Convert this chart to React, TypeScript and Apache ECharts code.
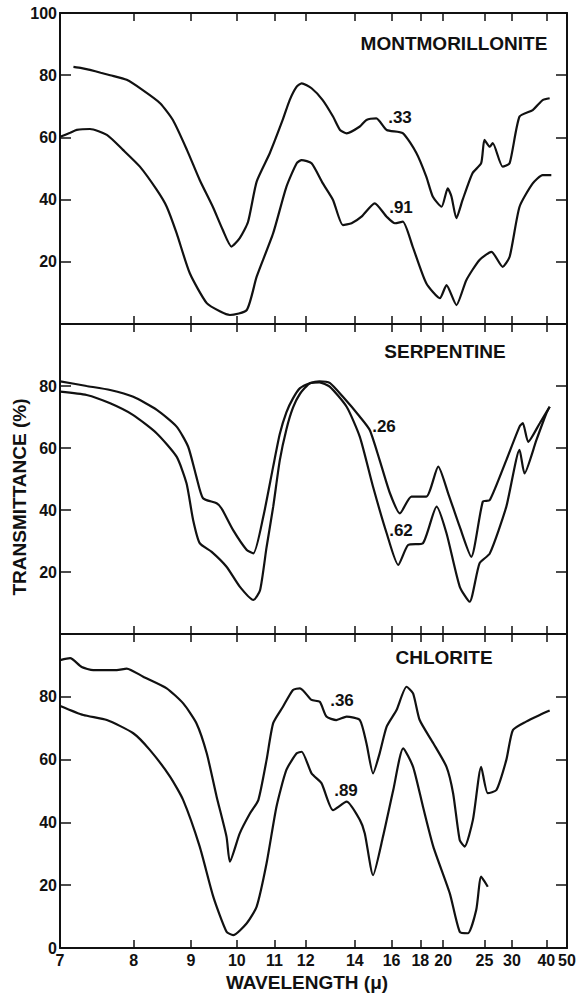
import React, { useEffect, useRef } from "react";
import * as echarts from "echarts";

// Infrared transmittance spectra of three clay minerals.
// Samples are [wavenumber (cm^-1), transmittance (%)]; the x axis is linear in
// wavenumber and is labeled in wavelength (µ = 10000 / cm^-1).

const WAVELENGTH_TICKS = [7, 8, 9, 10, 11, 12, 14, 16, 18, 20, 25, 30, 40, 50];

const MONT_033: [number, number][] = [
  [1396, 82.7], [1376, 82.3], [1356, 81.7], [1330, 80.8], [1307, 80], [1267, 78.5], [1228, 75.2],
  [1186, 71], [1155, 65.6], [1121, 56], [1090, 46.3], [1058, 37.6], [1034, 30.2], [1013, 24.9],
  [993, 27.6], [973, 32.8], [952, 45.8], [920, 55], [889, 65.6], [872, 72], [855, 76.3], [843, 77.4],
  [819, 75.8], [792, 72], [767, 66.7], [750, 62.4], [734, 61.3], [702, 63.5], [686, 65.6], [662, 66.1],
  [637, 62.4], [598, 61.4], [565, 55], [541, 47.4], [525, 40.9], [504, 37.7], [489, 43.6], [480, 41],
  [468, 34], [453, 39.9], [429, 48.5], [408, 51.7], [400, 59.2], [387, 57], [380, 58.2], [356, 50.6],
  [339, 51.7], [315, 66.7], [283, 68.8], [259, 72], [242, 72.6],
];

const MONT_091: [number, number][] = [
  [1428, 60.2], [1404, 61.5], [1388, 62.4], [1356, 62.7], [1315, 60.8], [1276, 56], [1235, 50.6],
  [1194, 43.1], [1170, 37.7], [1146, 29.2], [1114, 16.3], [1073, 6.7], [1040, 4], [1017, 2.9],
  [976, 4.5], [952, 15.2], [912, 29.2], [880, 44.1], [855, 51.7], [843, 52.7], [819, 51.7], [792, 45.3],
  [767, 39.9], [743, 31.8], [722, 32.4], [698, 34.5], [666, 38.8], [637, 34.5], [617, 32.4], [598, 32.9],
  [574, 24.9], [541, 13.1], [508, 8.3], [492, 12.5], [468, 6.1], [444, 14.1], [412, 20.6], [383, 23.2],
  [356, 18.4], [339, 21.6], [315, 37.7], [283, 45.2], [259, 47.9], [238, 47.9],
];

const SERP_026: [number, number][] = [
  [1428, 81.5], [1364, 80], [1307, 78.7], [1251, 76.5], [1194, 72.3], [1146, 66.9], [1118, 60.4],
  [1098, 50.7], [1082, 43.8], [1049, 42.2], [1037, 40.5], [1009, 33.5], [976, 27.1], [960, 26],
  [936, 37.8], [912, 54], [896, 64.5], [880, 71.5], [864, 76], [847, 79.3], [823, 80.9], [800, 81.5],
  [775, 81], [743, 76.5], [702, 70.1], [678, 65.8], [654, 56.1], [629, 45.4], [605, 38.9], [577, 44.3],
  [541, 44.3], [512, 54], [488, 45.4], [460, 34.6], [432, 24.9], [404, 42.7], [387, 43.2], [347, 56.1],
  [315, 66.9], [307, 68], [294, 62], [266, 68], [242, 73.3],
];

const SERP_062: [number, number][] = [
  [1428, 78.2], [1364, 77.1], [1307, 74.4], [1251, 70.6], [1194, 64.7], [1146, 57.2], [1122, 48.6],
  [1106, 36.8], [1090, 29.3], [1061, 26.5], [1025, 21.7], [993, 15.3], [960, 11], [944, 14],
  [928, 28], [912, 41], [896, 56], [880, 66], [864, 73], [847, 77.5], [823, 80.9], [800, 81.2], [775, 79.8],
  [734, 73.3], [702, 63.6], [670, 47.5], [637, 32.5], [609, 22.3], [585, 28.7], [549, 29.3], [516, 41.1],
  [492, 32.5], [460, 15.3], [436, 10.4], [412, 22.8], [387, 26], [347, 41.1], [315, 59.4], [303, 51.8],
  [274, 62.6], [250, 71.2], [242, 73.3],
];

const CHL_036: [number, number][] = [
  [1428, 91.7], [1404, 92.3], [1376, 89.5], [1348, 88.5], [1291, 88.5], [1267, 89], [1227, 86.4],
  [1170, 82.7], [1130, 77.9], [1098, 71.6], [1073, 62], [1049, 48.2], [1025, 35.4], [1017, 27.5],
  [993, 36.5], [968, 42.9], [948, 47.1], [928, 59.9], [912, 71.6], [888, 76.9], [864, 82.2], [847, 82.7],
  [819, 79], [799, 78.4], [783, 73.7], [759, 72.6], [734, 73.7], [702, 72.6], [686, 65.2], [670, 55.6],
  [654, 62], [637, 70.5], [613, 75.8], [589, 83.2], [573, 81.1], [557, 72.6], [524, 65.2], [492, 57.7],
  [476, 49.3], [460, 34.4], [448, 32.3], [428, 40.8], [408, 57.7], [392, 49.3], [371, 50.3], [347, 59.9],
  [331, 69.4], [299, 72.1], [266, 74.2], [242, 75.6],
];

const CHL_089: [number, number][] = [
  [1428, 77.1], [1372, 74.2], [1315, 72.6], [1251, 68.4], [1211, 63.1], [1162, 54.6], [1130, 47.1],
  [1090, 32.3], [1057, 16.3], [1025, 5.2], [1009, 4.1], [976, 7.9], [952, 13.2], [928, 27], [904, 45],
  [880, 56.7], [855, 62], [843, 62.5], [819, 55.6], [795, 52.5], [767, 43.9], [734, 46.6], [702, 40.8],
  [690, 36.5], [670, 23.2], [646, 35.4], [621, 50.3], [597, 63.6], [573, 57.7], [549, 45], [524, 32.3],
  [484, 17.4], [460, 5.2], [440, 4.7], [420, 12.1], [408, 22.7], [392, 19.5],
];

const INK = "#111";
const FONT = "Liberation Sans";

// One panel per mineral, stacked top to bottom
const PANELS = [
  { name: "MONTMORILLONITE", top: 13, height: 311, yLabels: [20, 40, 60, 80, 100], curves: [MONT_033, MONT_091] },
  { name: "SERPENTINE", top: 324, height: 310, yLabels: [20, 40, 60, 80], curves: [SERP_026, SERP_062] },
  { name: "CHLORITE", top: 634, height: 314, yLabels: [0, 20, 40, 60, 80], curves: [CHL_036, CHL_089] },
];

const tickValues = WAVELENGTH_TICKS.map((w) => 10000 / w);

export default function App() {
  const ref = useRef<HTMLDivElement>(null);

  useEffect(() => {
    if (!ref.current) return;
    const chart = echarts.init(ref.current, undefined, { renderer: "svg" });

    const grid: any[] = [];
    const xAxis: any[] = [];
    const yAxis: any[] = [];
    const series: any[] = [];

    PANELS.forEach((p, i) => {
      grid.push({ left: 60, right: 12, top: p.top, height: p.height });
      const isLast = i === PANELS.length - 1;
      const xBase = {
        type: "value",
        gridIndex: i,
        min: 10000 / 50,
        max: 10000 / 7,
        inverse: true,
        splitLine: { show: false },
        axisLine: { show: true, onZero: false, lineStyle: { color: INK, width: 2 } },
        axisTick: { show: true, inside: true, length: 8, customValues: tickValues, lineStyle: { color: INK, width: 1.5 } },
      };
      xAxis.push({
        ...xBase,
        position: "bottom",
        axisLabel: {
          show: isLast,
          customValues: tickValues,
          formatter: (v: number) => String(Math.round(10000 / v)),
          color: INK,
          fontFamily: FONT,
          fontWeight: "bold",
          fontSize: 16,
          margin: 4,
        },
      });
      xAxis.push({ ...xBase, position: "top", axisLabel: { show: false } });

      const yBase = {
        type: "value",
        gridIndex: i,
        min: 0,
        max: 100,
        interval: 20,
        splitLine: { show: false },
        axisLine: { show: true, onZero: false, lineStyle: { color: INK, width: 2 } },
        axisTick: { show: true, inside: true, length: 11, lineStyle: { color: INK, width: 1.5 } },
      };
      yAxis.push({
        ...yBase,
        position: "left",
        axisLabel: {
          formatter: (v: number) => (p.yLabels.includes(v) ? String(v) : ""),
          color: INK,
          fontFamily: FONT,
          fontWeight: "bold",
          fontSize: 16,
          margin: 3,
        },
      });
      yAxis.push({ ...yBase, position: "right", axisLabel: { show: false } });

      p.curves.forEach((data) => {
        series.push({
          type: "line",
          xAxisIndex: i * 2,
          yAxisIndex: i * 2,
          data,
          showSymbol: false,
          symbol: "none",
          smooth: 0.2,
          lineStyle: { color: INK, width: 2.2 },
          silent: true,
        });
      });
    });

    const textStyle = (text: string, size: number) => ({
      text,
      fill: INK,
      font: `bold ${size}px "${FONT}"`,
      textAlign: "center",
      textVerticalAlign: "middle",
    });

    const labels: [string, number, number, number][] = [
      ["MONTMORILLONITE", 454, 43, 19],
      ["SERPENTINE", 445, 351, 19],
      ["CHLORITE", 444, 657, 19],
      [".33", 400, 117, 17],
      [".91", 401, 207, 17],
      [".26", 384, 426, 17],
      [".62", 401, 530, 17],
      [".36", 342, 700, 17],
      [".89", 346, 790, 17],
      ["WAVELENGTH (\u03bc)", 307, 982, 19],
    ];

    const graphic: any[] = labels.map(([t, x, y, s]) => ({
      type: "text",
      x,
      y,
      style: textStyle(t, s),
    }));
    graphic.push({
      type: "text",
      x: 19,
      y: 497,
      rotation: Math.PI / 2,
      style: textStyle("TRANSMITTANCE (%)", 19),
    });

    chart.setOption({
      animation: false,
      backgroundColor: "#fff",
      grid,
      xAxis,
      yAxis,
      series,
      graphic,
    });

    return () => chart.dispose();
  }, []);

  return (
    <div
      ref={ref}
      style={{ position: "fixed", left: 0, top: 0, width: 579, height: 995, background: "#fff" }}
    />
  );
}
